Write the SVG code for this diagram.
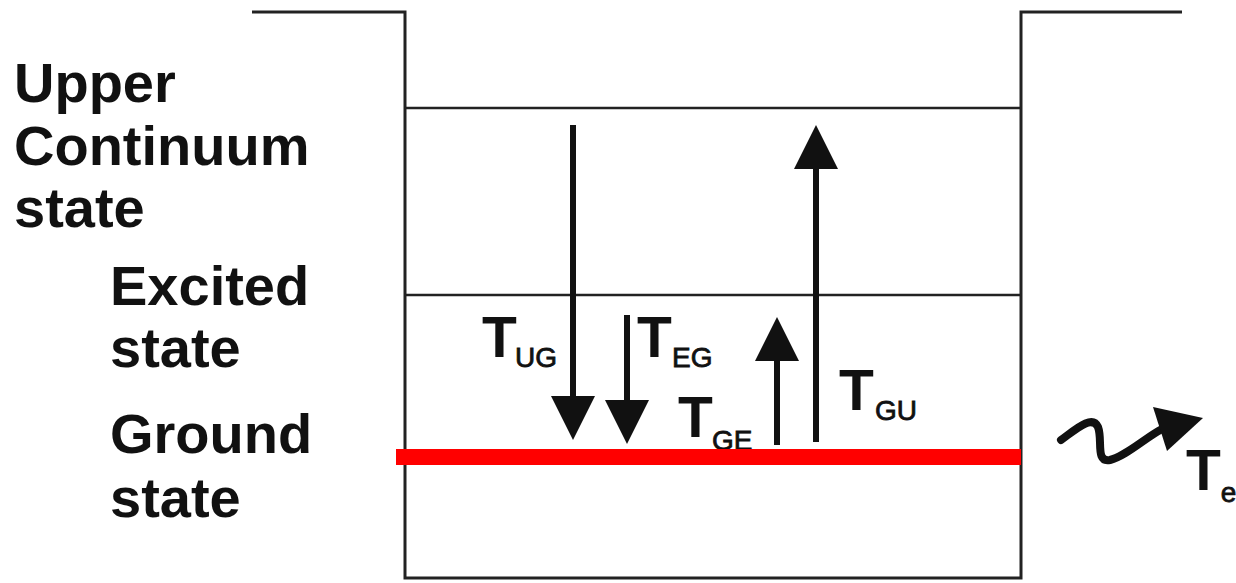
<svg xmlns="http://www.w3.org/2000/svg" width="1236" height="583" viewBox="0 0 1236 583">
  <style>
    .frame { fill: none; stroke: #222; stroke-width: 3; }
    .lvl { stroke: #222; stroke-width: 2.5; }
    .lbl { font-family: "Liberation Sans", Arial, sans-serif; font-weight: bold; font-size: 56px; fill: #111; }
    .tt { font-family: "Liberation Sans", Arial, sans-serif; font-weight: bold; font-size: 57px; fill: #111; }
    .sub { font-family: "Liberation Sans", Arial, sans-serif; font-weight: normal; font-size: 28px; fill: #111; stroke: #111; stroke-width: 0.8; }
    .arr { stroke: #111; stroke-width: 6; fill: none; marker-end: url(#head); }
  </style>
  <defs>
    <marker id="head" markerUnits="userSpaceOnUse" viewBox="0 0 44 44" markerWidth="44" markerHeight="44" refX="24" refY="22" orient="auto">
      <path d="M0,0 L44,22 L0,44 Z" fill="#111"/>
    </marker>
  </defs>
  <rect width="1236" height="583" fill="#fff"/>

  <g id="well">
    <path class="frame" d="M252,12 H405 V578 H1021 V12 H1182"/>
  </g>

  <g id="upper-level">
    <line class="lvl" x1="405" y1="108" x2="1021" y2="108"/>
    <text class="lbl" x="14" y="102">Upper</text>
    <text class="lbl" x="14" y="165">Continuum</text>
    <text class="lbl" x="14" y="227">state</text>
  </g>

  <g id="excited-level">
    <line class="lvl" x1="405" y1="295" x2="1021" y2="295"/>
    <text class="lbl" x="110" y="305">Excited</text>
    <text class="lbl" x="110" y="367">state</text>
  </g>

  <g id="labels">
    <text class="tt" x="482" y="357">T</text>
    <text class="sub" x="515" y="367">UG</text>
    <text class="tt" x="637" y="357">T</text>
    <text class="sub" x="672" y="367">EG</text>
    <text class="tt" x="678" y="437">T</text>
    <text class="sub" x="712" y="450">GE</text>
    <text class="tt" x="839" y="410">T</text>
    <text class="sub" x="875" y="420">GU</text>
  </g>

  <g id="ground-level">
    <rect x="396" y="449" width="625" height="16" fill="#ff0000"/>
    <text class="lbl" x="110" y="453">Ground</text>
    <text class="lbl" x="110" y="517">state</text>
  </g>

  <g id="connectors">
    <line class="arr" x1="573" y1="125" x2="573" y2="420"/>
    <line class="arr" x1="627" y1="315" x2="627" y2="424"/>
    <line class="arr" x1="777" y1="445" x2="777" y2="337"/>
    <line class="arr" x1="816" y1="442" x2="816" y2="145"/>
    <path d="M1061,440 C1075,430 1092,414 1098,427 C1103,440 1095,463 1110,460 C1126,456 1145,438 1162,429" fill="none" stroke="#111" stroke-width="8" stroke-linecap="round"/>
    <path d="M1153,407 L1203,418 L1167,451 Z" fill="#111"/>
  </g>

  <g id="escape-label">
    <text x="1186" y="490"><tspan class="tt">T</tspan><tspan class="sub" dy="12">e</tspan></text>
  </g>
</svg>
